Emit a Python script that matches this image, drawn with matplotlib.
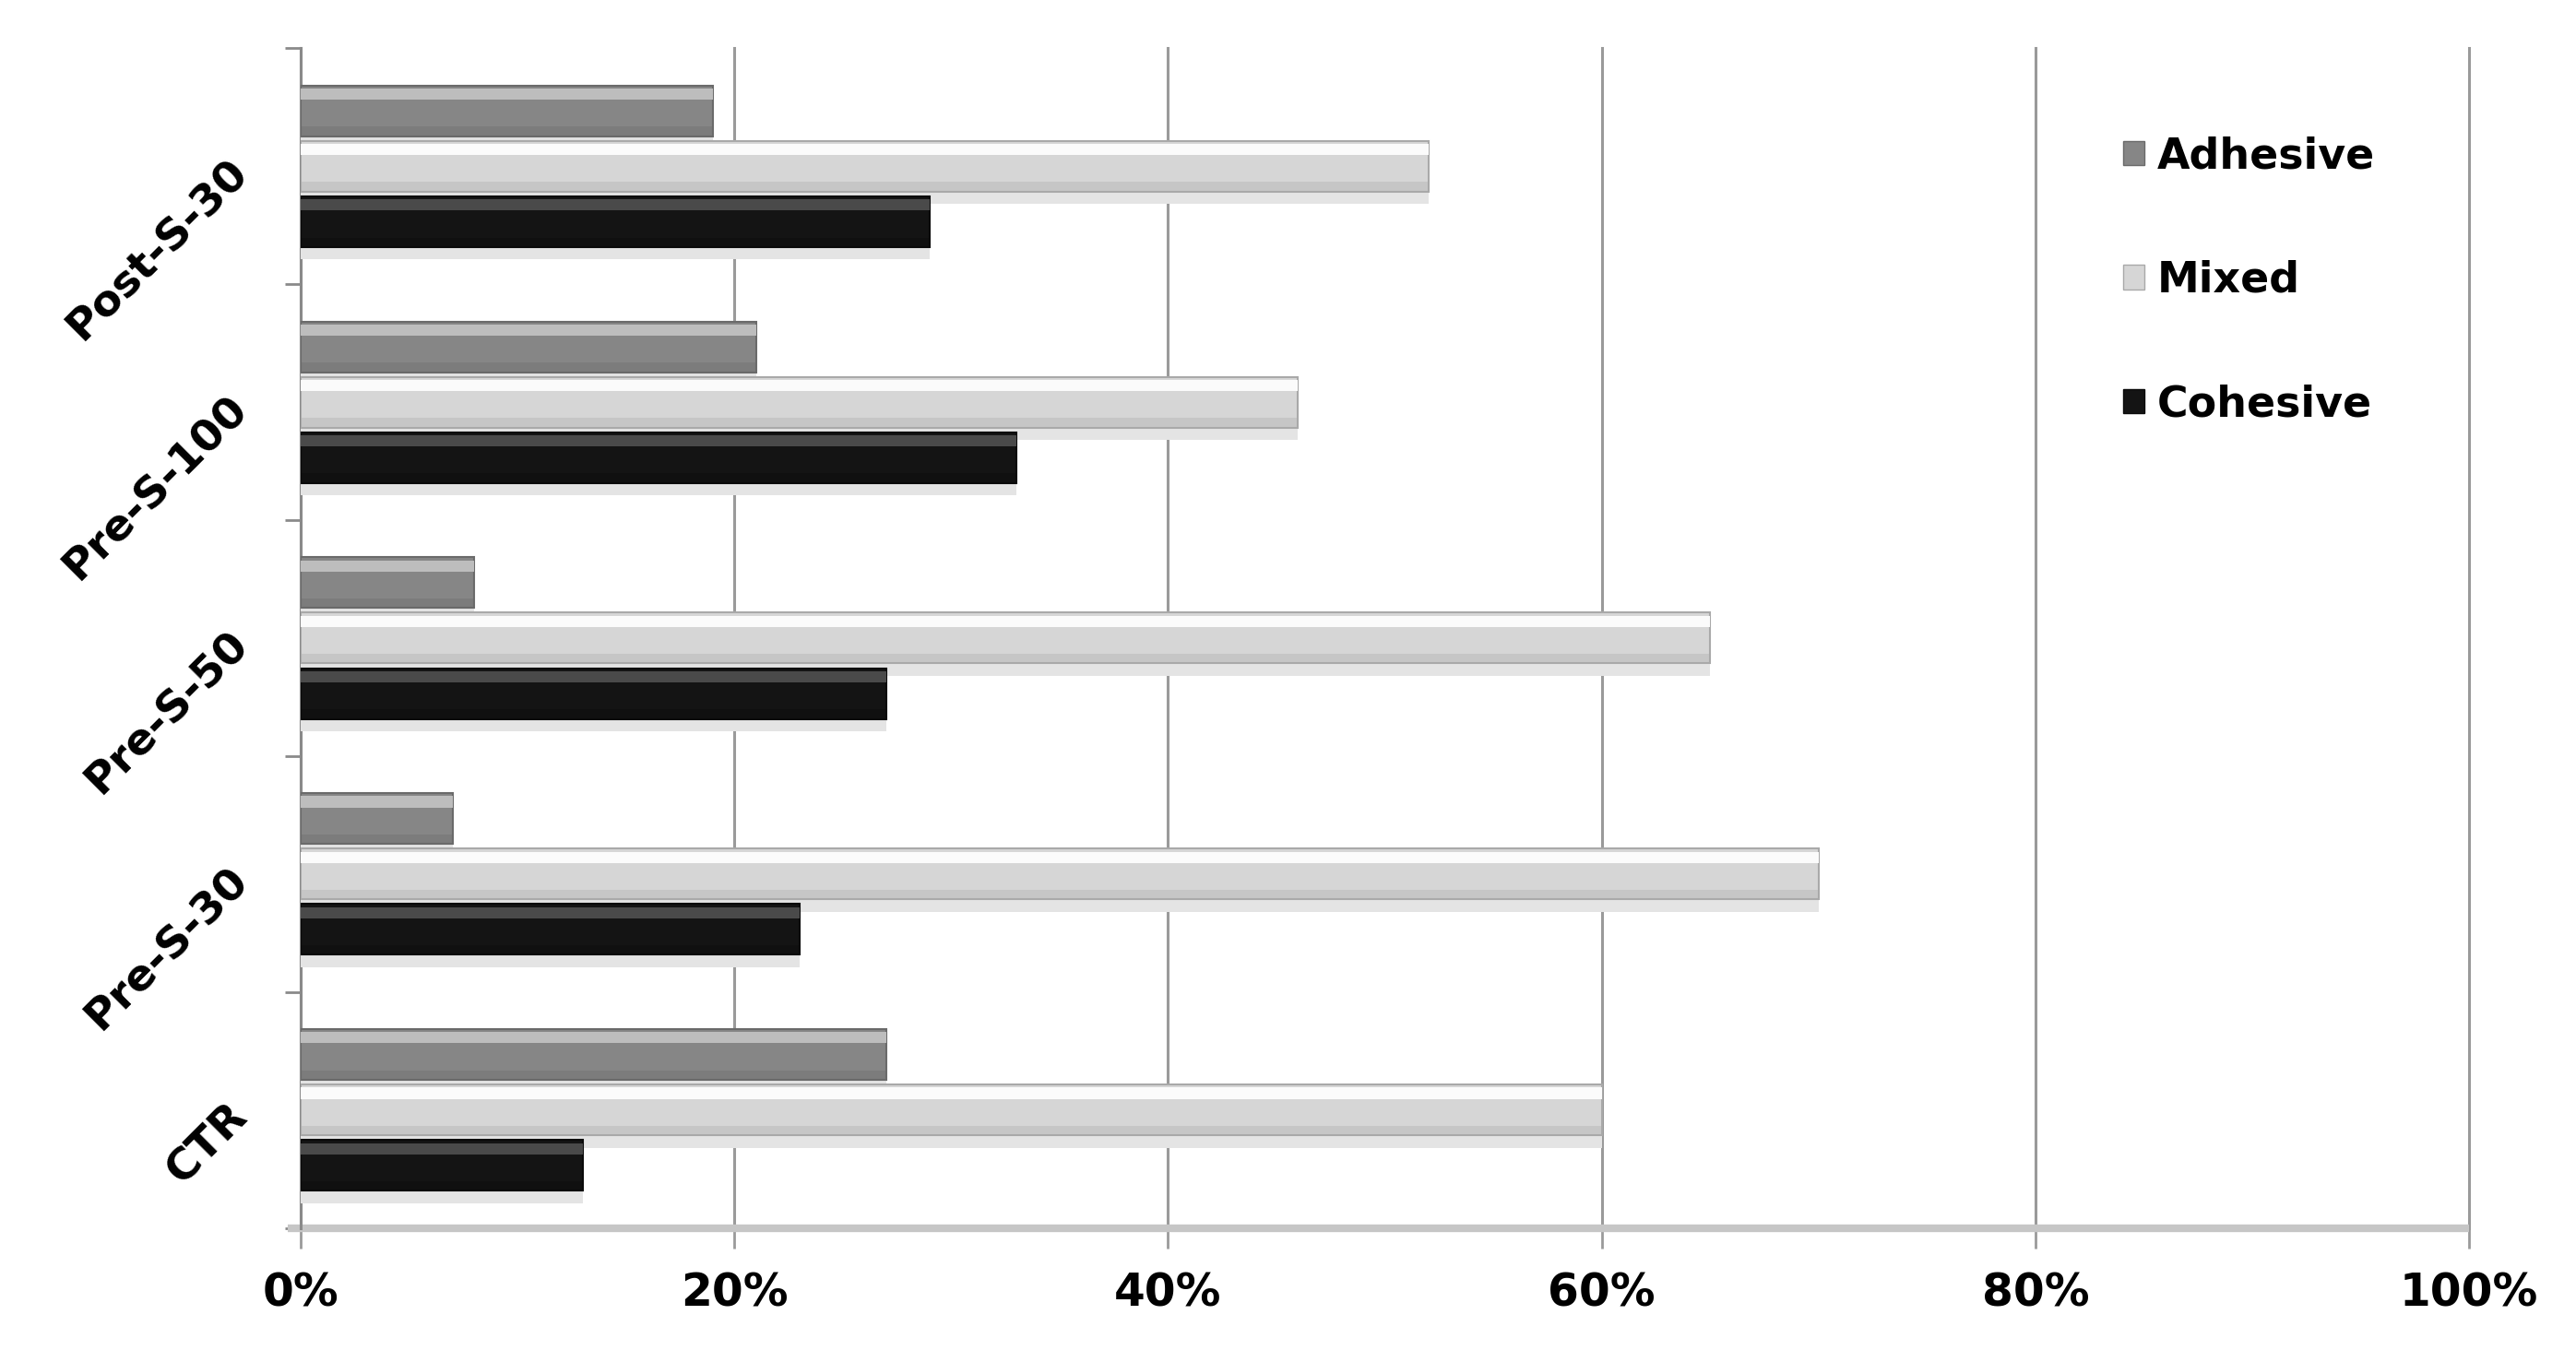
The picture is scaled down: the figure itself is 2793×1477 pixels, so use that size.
import numpy as np
import matplotlib
matplotlib.use("Agg")
import matplotlib.pyplot as plt
from matplotlib.patches import Patch
from matplotlib.ticker import FuncFormatter

groups = ["CTR", "Pre-S-30", "Pre-S-50", "Pre-S-100", "Post-S-30"]
series = ["Adhesive", "Mixed", "Cohesive"]
adhesive = [27, 7, 8, 21, 19]
mixed = [60, 70, 65, 46, 52]
cohesive = [13, 23, 27, 33, 29]

# main colour, top highlight, bottom shade
looks = {
    "Adhesive": ("#868686", "#bdbdbd", "#6a6a6a"),
    "Mixed": ("#d6d6d6", "#fbfbfb", "#a9a9a9"),
    "Cohesive": ("#141414", "#4a4a4a", "#0a0a0a"),
}

plt.rcParams["font.family"] = ["DejaVu Sans"]
plt.rcParams["font.weight"] = "bold"

fig = plt.figure(figsize=(27.93, 14.77), dpi=100)
ax = fig.add_axes([0.1167, 0.0985, 0.8418, 0.866])

y = np.arange(len(groups))
h = 0.215
offsets = {"Adhesive": 0.235, "Mixed": 0.0, "Cohesive": -0.235}
vals = {"Adhesive": adhesive, "Mixed": mixed, "Cohesive": cohesive}

for name in series:
    base, hi, lo = looks[name]
    pos = y + offsets[name]
    v = vals[name]
    # soft shadow under the bar
    ax.barh(pos - h * 0.62, v, height=h * 0.25, color="#e4e4e4", zorder=3)
    ax.barh(pos, v, height=h, color=base, edgecolor=lo, linewidth=1.5, zorder=4)
    ax.barh(pos + h * 0.33, v, height=h * 0.22, color=hi, linewidth=0, zorder=5)
    ax.barh(pos - h * 0.4, v, height=h * 0.18, color=lo, alpha=0.35, linewidth=0, zorder=5)

ax.set_xlim(0, 100)
ax.set_ylim(-0.5, len(groups) - 0.5)
ax.set_xticks(np.arange(0, 101, 20))
ax.xaxis.set_major_formatter(FuncFormatter(lambda v, p: f"{v:.0f}%"))
ax.grid(axis="x", color="#9a9a9a", linewidth=2.2, zorder=0)
for gl in ax.get_xgridlines():
    gl.set_clip_on(False)
ax.set_axisbelow(True)

ax.set_yticks(np.arange(-0.5, len(groups), 1.0))
ax.set_yticklabels([])
ax.set_yticks(y, minor=True)
ax.set_yticklabels(groups, minor=True, rotation=45, ha="right",
                   va="center", rotation_mode="anchor", fontsize=34, fontweight="bold")
ax.tick_params(axis="y", which="minor", length=0, pad=46)
ax.tick_params(axis="y", which="major", length=12, width=2, color="#8a8a8a")
ax.tick_params(axis="x", length=16, width=2, color="#9a9a9a", labelsize=35, pad=18)
for lab in ax.get_xticklabels():
    lab.set_fontweight("bold")

for s in ["top", "right", "bottom"]:
    ax.spines[s].set_visible(False)
ax.spines["left"].set_color("#8a8a8a")
ax.spines["left"].set_linewidth(2.2)

# floor band
ax.plot([-0.6, 100], [-0.5, -0.5], color="#c6c6c6", linewidth=6, clip_on=False,
        solid_capstyle="butt", zorder=2)

handles = [Patch(facecolor=looks[n][0], edgecolor=looks[n][2], label=n) for n in series]
leg = ax.legend(handles=handles, loc="upper left", bbox_to_anchor=(0.823, 0.958),
                frameon=False, fontsize=33, handlelength=0.5, handleheight=0.5,
                handletextpad=0.3, labelspacing=1.95)
for t in leg.get_texts():
    t.set_fontweight("bold")

fig.savefig("out.png", dpi=100, facecolor="white")
